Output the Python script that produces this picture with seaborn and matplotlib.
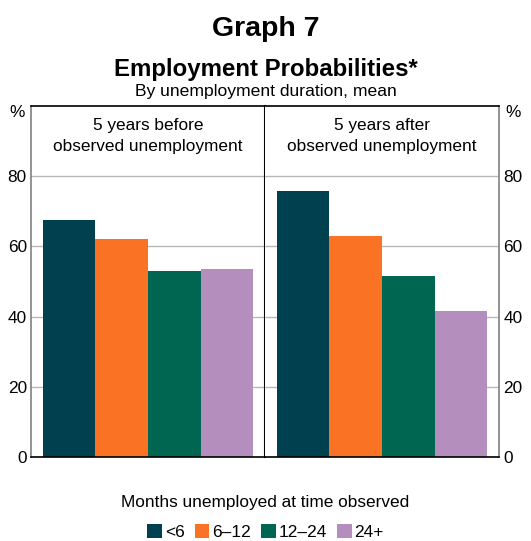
import matplotlib
matplotlib.use("Agg")
import matplotlib.pyplot as plt
import seaborn as sns
import pandas as pd
from matplotlib.patches import Patch

periods = ["5 years before\nobserved unemployment", "5 years after\nobserved unemployment"]
durations = ["<6", "6–12", "12–24", "24+"]
before_vals = [67.5, 62.0, 53.0, 53.7]
after_vals = [75.7, 62.9, 51.6, 41.7]
colors = ["#00404f", "#fa7223", "#006652", "#b48fbe"]
yticks = [0, 20, 40, 60, 80]

sns.set_theme(style="white")
plt.rcParams['font.family'] = ['Liberation Sans', 'DejaVu Sans']
plt.rcParams['text.color'] = 'black'

fig = plt.figure(figsize=(5.31, 5.41), dpi=100)
L, R, B, T = 31/531, 499/531, 1-457/541, 1-106/541
W = (R - L) / 2
axes = [fig.add_axes([L, B, W, T - B]), fig.add_axes([L + W, B, W, T - B])]
FS = 12.4

for i, (ax, vals) in enumerate(zip(axes, [before_vals, after_vals])):
    df = pd.DataFrame({"period": [periods[i]] * 4, "dur": durations, "val": vals})
    sns.barplot(data=df, x="period", y="val", hue="dur", hue_order=durations,
                palette=colors, width=0.9, ax=ax, legend=False, saturation=1,
                edgecolor="none", linewidth=0)
    ax.set_ylim(0, 100)
    ax.set_xlim(-0.5, 0.5)
    ax.set_yticks(yticks)
    ax.yaxis.grid(True, color="#b8b8b8", linewidth=1)
    ax.set_axisbelow(True)
    ax.set_xticks([])
    ax.set_xlabel("")
    ax.set_ylabel("")
    ax.text(0.5, 0.965, periods[i], transform=ax.transAxes, ha="center", va="top",
            fontsize=FS, linespacing=1.45, color="black")
    for s in ax.spines.values():
        s.set_visible(True)
        s.set_color("black")
        s.set_linewidth(1.2)
    ax.tick_params(axis="y", length=0, labelsize=FS, labelcolor="black", pad=3)
    if i == 0:
        ax.spines["left"].set_color("#808080")
        ax.spines["right"].set_linewidth(1.5)
        ax.yaxis.tick_left()
    else:
        ax.spines["right"].set_color("#808080")
        ax.spines["left"].set_visible(False)
        ax.yaxis.tick_right()

fig.text(L - 0.012, T + 0.002, "%", ha="right", va="top", fontsize=FS)
fig.text(R + 0.012, T + 0.002, "%", ha="left", va="top", fontsize=FS)

fig.text(0.5, 1 - 29/541, "Graph 7", ha="center", va="center", fontsize=20.5, fontweight="bold")
fig.text(0.5, 1 - 69/541, "Employment Probabilities*", ha="center", va="center", fontsize=17.3, fontweight="bold")
fig.text(0.5, 1 - 92/541, "By unemployment duration, mean", ha="center", va="center", fontsize=12.6)

fig.text(0.5, 1 - 502/541, "Months unemployed at time observed", ha="center", va="center", fontsize=12.4)
handles = [Patch(facecolor=c, edgecolor="none") for c in colors]
leg = fig.legend(handles, durations, loc="center", bbox_to_anchor=(0.5, 1 - 532/541), ncol=4,
                 frameon=False, fontsize=12.4, handlelength=0.85, handleheight=0.85,
                 handletextpad=0.15, columnspacing=0.6, borderaxespad=0, borderpad=0)

fig.savefig("out.png", dpi=100)
